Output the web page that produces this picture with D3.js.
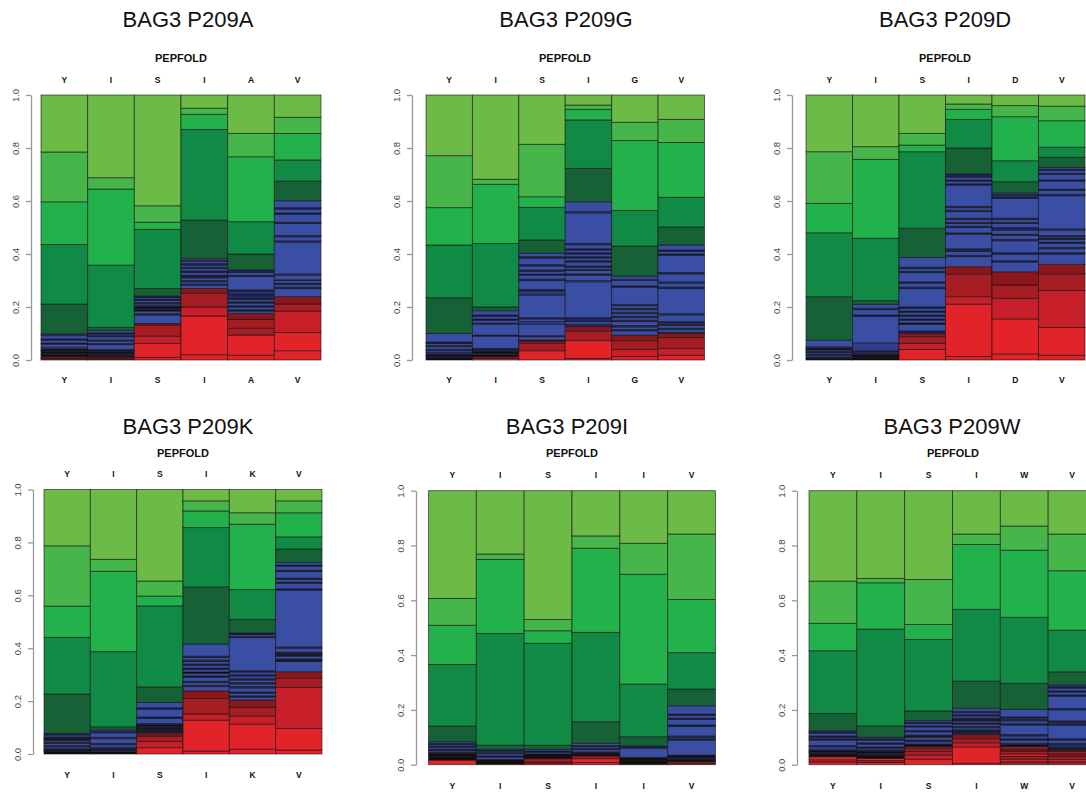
<!DOCTYPE html>
<html>
<head>
<meta charset="UTF-8">
<title>BAG3 P209 PEPFOLD</title>
<script src="https://d3js.org/d3.v7.min.js"></script>
<style>
  body { margin: 0; background: #fff; }
  svg { display: block; font-family: "Liberation Sans", Arial, sans-serif; }
  .ttl { font-size: 22px; fill: #111; }
  .sub { font-size: 11px; font-weight: bold; fill: #111; }
  .res { font-size: 8.5px; font-weight: bold; fill: #111; }
  .yax path, .yax line { stroke: #999; stroke-width: 1.3; }
  .yax text { font-size: 9.5px; fill: #444; }
</style>
</head>
<body>
<div id="chart"></div>
<script>
// titles and residues (x labels)
const titles = ["BAG3 P209A", "BAG3 P209G", "BAG3 P209D", "BAG3 P209K", "BAG3 P209I", "BAG3 P209W"];
const residues = [
  ["Y", "I", "S", "I", "A", "V"],
  ["Y", "I", "S", "I", "G", "V"],
  ["Y", "I", "S", "I", "D", "V"],
  ["Y", "I", "S", "I", "K", "V"],
  ["Y", "I", "S", "I", "I", "V"],
  ["Y", "I", "S", "I", "W", "V"]
];
const yTicks = [0, 0.2, 0.4, 0.6, 0.8, 1.0];

// each column: stacked segments bottom -> top as [colour class, upper bound]
const p209A = [
  [["r1",.004],["r3",.008],["r1",.012],["k",.02],["b3",.024],["k",.032],["b3",.036],["k",.042],["b2",.048],["b1",.06],["b3",.064],["b1",.075],["b3",.08],["b1",.092],["b2",.098],["g1",.211],["g2",.436],["g3",.597],["g4",.785],["g5",1]],
  [["r3",.004],["r1",.008],["r4",.012],["k",.018],["b3",.024],["k",.03],["b3",.036],["k",.04],["b1",.058],["b3",.062],["b1",.072],["b2",.076],["b1",.088],["b3",.092],["b1",.098],["b3",.103],["b1",.111],["g1",.123],["g2",.358],["g3",.645],["g4",.688],["g5",1]],
  [["r1",.01],["r1",.063],["r2",.09],["r3",.132],["r4",.138],["b1",.17],["b3",.175],["b1",.185],["k",.19],["b3",.195],["k",.2],["b3",.205],["b1",.212],["b3",.217],["b1",.225],["b3",.23],["b1",.236],["b3",.242],["g1",.27],["g2",.493],["g3",.52],["g4",.582],["g5",1]],
  [["r1",.02],["r1",.166],["r2",.2],["r3",.252],["r4",.27],["b1",.282],["b3",.286],["b1",.295],["b3",.3],["b1",.31],["b3",.315],["k",.32],["b1",.33],["b3",.336],["b1",.345],["b3",.35],["b1",.358],["b3",.364],["b1",.372],["b2",.378],["b1",.384],["g1",.528],["g2",.87],["g3",.927],["g4",.95],["g5",1]],
  [["r1",.018],["r1",.094],["r3",.12],["r3",.153],["r4",.176],["b1",.185],["b3",.19],["b1",.2],["b3",.205],["b1",.215],["b3",.22],["b1",.228],["b3",.235],["b2",.242],["b3",.25],["b2",.258],["b3",.265],["b1",.315],["b3",.32],["b1",.33],["b3",.34],["g1",.4],["g2",.522],["g3",.767],["g4",.855],["g5",1]],
  [["r1",.035],["r1",.104],["r2",.185],["r3",.211],["r4",.239],["b1",.27],["b3",.275],["b1",.285],["b3",.29],["b1",.3],["b3",.303],["b1",.32],["b2",.325],["b1",.445],["b2",.45],["b1",.465],["b3",.47],["b1",.515],["b3",.52],["b1",.55],["b3",.555],["b1",.57],["b3",.575],["b1",.601],["g1",.675],["g2",.755],["g3",.855],["g4",.916],["g5",1]]
];
const p209G = [
  [["k",.01],["b3",.015],["k",.02],["b3",.028],["b1",.035],["b3",.04],["b1",.05],["b3",.055],["b1",.062],["b3",.068],["b1",.1],["g1",.235],["g2",.434],["g3",.575],["g4",.771],["g5",1]],
  [["r1",.006],["r3",.012],["k",.02],["b3",.026],["k",.032],["b3",.04],["k",.044],["b1",.09],["b3",.094],["b1",.135],["b2",.14],["b1",.15],["b3",.155],["b1",.165],["b3",.17],["b1",.186],["g1",.2],["g2",.44],["g3",.663],["g4",.682],["g5",1]],
  [["r1",.035],["r3",.063],["r4",.072],["b3",.076],["b1",.088],["b3",.092],["b1",.135],["b2",.145],["b1",.155],["b3",.16],["b1",.245],["b2",.252],["b1",.26],["b3",.266],["b1",.3],["b3",.305],["b1",.32],["b3",.325],["b1",.335],["b3",.34],["b1",.355],["b3",.36],["b1",.385],["b3",.39],["b1",.403],["g1",.453],["g2",.576],["g3",.616],["g4",.814],["g5",1]],
  [["r1",.006],["r1",.073],["r3",.11],["r4",.126],["b3",.135],["b1",.145],["b3",.16],["b1",.295],["b2",.3],["b1",.32],["b3",.325],["b1",.338],["b3",.342],["b1",.35],["b3",.355],["b1",.37],["b3",.375],["b1",.385],["b3",.39],["b1",.4],["b3",.405],["b1",.415],["b3",.42],["b1",.435],["b3",.44],["b1",.555],["b2",.56],["b1",.597],["g1",.723],["g2",.906],["g3",.946],["g4",.962],["g5",1]],
  [["r1",.013],["r2",.04],["r3",.073],["r4",.094],["b1",.11],["b3",.115],["b1",.125],["b3",.13],["b1",.145],["b3",.15],["b1",.16],["b3",.165],["b1",.175],["b3",.18],["b1",.19],["b3",.195],["b1",.205],["b3",.21],["b1",.275],["b3",.28],["b1",.3],["b2",.305],["b1",.317],["g1",.43],["g2",.564],["g3",.828],["g4",.897],["g5",1]],
  [["r1",.018],["r2",.044],["r3",.085],["r4",.1],["b3",.105],["b1",.115],["b3",.12],["b1",.13],["b3",.135],["b1",.14],["b3",.145],["b1",.17],["b2",.175],["b1",.27],["b3",.275],["b1",.29],["b2",.295],["b1",.325],["b3",.33],["b1",.395],["b3",.4],["b1",.41],["b3",.415],["b1",.434],["g1",.502],["g2",.614],["g3",.821],["g4",.908],["g5",1]]
];
const p209D = [
  [["k",.006],["b3",.012],["b1",.018],["b3",.022],["b1",.028],["b3",.032],["b1",.038],["k",.042],["b3",.046],["b1",.05],["b1",.075],["g1",.239],["g2",.48],["g3",.591],["g4",.786],["g5",1]],
  [["k",.01],["k",.019],["b3",.025],["b1",.03],["b3",.035],["b2",.065],["b1",.165],["b3",.17],["b1",.19],["b3",.195],["b1",.21],["g1",.224],["g2",.459],["g3",.757],["g4",.805],["g5",1]],
  [["r1",.04],["r2",.063],["r3",.088],["r4",.1],["b3",.11],["b1",.135],["k",.14],["b1",.15],["b3",.155],["b1",.165],["b3",.17],["b1",.18],["b3",.185],["b1",.195],["b3",.2],["b1",.27],["b3",.275],["b1",.29],["b3",.295],["b1",.33],["b3",.335],["b1",.345],["b3",.35],["b1",.387],["g1",.497],["g2",.786],["g3",.811],["g4",.855],["g5",1]],
  [["r1",.013],["r1",.211],["r2",.239],["r3",.325],["r4",.352],["b1",.39],["b3",.395],["b1",.41],["b3",.42],["b1",.475],["b3",.48],["b1",.5],["b3",.505],["b1",.515],["b3",.52],["b1",.53],["b3",.535],["b1",.56],["b3",.565],["b1",.575],["b3",.58],["b1",.66],["b3",.665],["b1",.675],["b3",.68],["b1",.69],["b3",.702],["g1",.8],["g2",.908],["g3",.946],["g4",.966],["g5",1]],
  [["r1",.023],["r1",.155],["r2",.233],["r3",.283],["r4",.333],["b1",.37],["b3",.375],["b1",.4],["b3",.405],["b1",.45],["b3",.455],["b1",.47],["b3",.475],["b1",.49],["b3",.5],["b1",.515],["b3",.52],["b1",.53],["b3",.535],["b1",.61],["b3",.615],["b1",.62],["b3",.625],["b1",.631],["g1",.673],["g2",.752],["g3",.918],["g4",.96],["g5",1]],
  [["r1",.018],["r1",.123],["r2",.262],["r3",.325],["r4",.361],["b1",.4],["b3",.405],["b1",.42],["b3",.425],["b1",.44],["b3",.445],["b1",.455],["b3",.46],["b1",.465],["b3",.47],["b1",.49],["b2",.495],["b1",.62],["b3",.625],["b1",.64],["b3",.645],["b1",.675],["b3",.68],["b1",.7],["b3",.705],["b1",.715],["b3",.72],["b1",.727],["g1",.765],["g2",.803],["g3",.903],["g4",.958],["g5",1]]
];
const p209K = [
  [["k",.008],["b3",.012],["k",.015],["b3",.02],["b1",.027],["b3",.032],["b1",.04],["b3",.044],["b1",.05],["b3",.055],["k",.06],["b3",.065],["b1",.072],["b3",.078],["g1",.227],["g2",.441],["g3",.559],["g4",.787],["g5",1]],
  [["k",.008],["b3",.014],["k",.018],["b3",.025],["b1",.035],["b3",.04],["b1",.058],["b3",.063],["b1",.08],["b3",.085],["b1",.091],["g1",.103],["g2",.387],["g3",.691],["g4",.736],["g5",1]],
  [["r1",.024],["r2",.047],["r3",.068],["r4",.078],["b3",.085],["k",.09],["b3",.095],["k",.1],["b3",.105],["k",.11],["b3",.115],["b1",.135],["b3",.14],["b1",.17],["b3",.175],["b1",.195],["g1",.254],["g2",.56],["g3",.597],["g4",.654],["g5",1]],
  [["r1",.011],["r1",.128],["r2",.151],["r3",.21],["r4",.239],["b1",.255],["b3",.26],["b1",.27],["b3",.275],["b1",.29],["b3",.295],["b1",.305],["k",.31],["b1",.32],["b3",.325],["b1",.335],["b3",.34],["b1",.35],["b3",.355],["b1",.365],["b3",.37],["b1",.416],["g1",.632],["g2",.856],["g3",.919],["g4",.957],["g5",1]],
  [["r1",.018],["r1",.113],["r2",.144],["r3",.176],["r4",.204],["b1",.215],["b3",.22],["b1",.23],["b3",.235],["b1",.25],["b3",.255],["b1",.265],["b3",.27],["b1",.28],["b3",.285],["b1",.295],["b3",.3],["b1",.31],["b3",.315],["b1",.44],["b3",.445],["b1",.452],["b3",.458],["g1",.509],["g2",.622],["g3",.869],["g4",.912],["g5",1]],
  [["r1",.015],["r1",.097],["r2",.252],["r3",.286],["r4",.311],["b1",.35],["k",.355],["b3",.36],["b1",.37],["b3",.375],["k",.38],["b3",.385],["b1",.4],["b2",.405],["b1",.62],["b3",.625],["b1",.645],["b3",.65],["b1",.66],["b3",.665],["b1",.69],["b3",.695],["b1",.71],["b3",.715],["b1",.724],["g1",.775],["g2",.821],["g3",.912],["g4",.957],["g5",1]]
];
const p209I = [
  [["r1",.017],["k",.03],["k",.041],["b3",.046],["b1",.052],["b3",.057],["b1",.064],["b3",.068],["b1",.074],["b3",.078],["b1",.084],["g1",.141],["g2",.366],["g3",.509],["g4",.607],["g5",1]],
  [["k",.01],["k",.019],["b1",.028],["b3",.032],["b1",.04],["b3",.045],["b1",.05],["b3",.056],["g1",.071],["g2",.479],["g3",.749],["g4",.769],["g5",1]],
  [["r4",.01],["r3",.022],["k",.032],["k",.039],["b1",.045],["b3",.05],["b1",.056],["g1",.071],["g2",.443],["g3",.489],["g4",.53],["g5",1]],
  [["r2",.008],["r1",.022],["r3",.032],["k",.042],["b3",.047],["b1",.055],["b3",.06],["b1",.066],["b3",.07],["b1",.078],["g1",.157],["g2",.483],["g3",.79],["g4",.835],["g5",1]],
  [["k",.015],["k",.027],["b1",.06],["b3",.068],["g1",.102],["g2",.294],["g3",.695],["g4",.808],["g5",1]],
  [["r4",.005],["r3",.011],["k",.02],["b3",.028],["k",.035],["b1",.09],["b3",.095],["b1",.1],["b2",.105],["b1",.14],["b3",.145],["b1",.165],["b3",.17],["b1",.18],["b3",.185],["b1",.215],["g1",.276],["g2",.409],["g3",.603],["g4",.842],["g5",1]]
];
const p209W = [
  [["r1",.01],["r2",.018],["r1",.029],["k",.04],["b3",.045],["k",.05],["b3",.056],["b1",.065],["b3",.07],["b1",.09],["b3",.095],["b1",.1],["b3",.105],["b1",.115],["b3",.12],["b1",.124],["g1",.187],["g2",.416],["g3",.516],["g4",.67],["g5",1]],
  [["r1",.008],["r3",.015],["r1",.023],["k",.035],["b3",.042],["k",.048],["b3",.054],["b1",.06],["b3",.065],["b1",.075],["b3",.08],["b1",.09],["b3",.095],["b1",.1],["g1",.142],["g2",.495],["g3",.664],["g4",.68],["g5",1]],
  [["r1",.02],["r2",.035],["r3",.05],["r2",.058],["r4",.066],["k",.072],["b3",.076],["b1",.084],["b3",.09],["b1",.1],["k",.104],["b3",.108],["b1",.12],["b3",.125],["b1",.138],["b3",.142],["b1",.15],["b3",.155],["b1",.161],["g1",.196],["g2",.457],["g3",.512],["g4",.676],["g5",1]],
  [["r1",.005],["r1",.065],["r2",.08],["r3",.095],["r4",.11],["b3",.118],["k",.122],["b3",.128],["b1",.135],["b3",.14],["b1",.148],["b3",.153],["b1",.16],["k",.165],["b3",.17],["b1",.178],["b3",.183],["b1",.19],["b3",.195],["b1",.206],["g1",.305],["g2",.567],["g3",.804],["g4",.842],["g5",1]],
  [["r3",.01],["r2",.02],["r3",.03],["r2",.04],["r3",.05],["r4",.058],["r3",.066],["k",.072],["b3",.078],["b1",.09],["b3",.095],["b1",.105],["b3",.11],["b1",.145],["b3",.15],["b1",.16],["b3",.165],["b1",.17],["b3",.175],["b1",.202],["g1",.297],["g2",.538],["g3",.783],["g4",.871],["g5",1]],
  [["r3",.01],["r2",.02],["r3",.03],["r4",.04],["r3",.048],["r4",.054],["k",.06],["b3",.066],["b1",.072],["b3",.078],["b1",.09],["b3",.095],["b1",.145],["b3",.15],["b1",.155],["b3",.16],["b1",.2],["b3",.205],["b1",.25],["b3",.255],["b1",.265],["b3",.27],["b1",.28],["b3",.285],["b1",.291],["g1",.339],["g2",.491],["g3",.708],["g4",.842],["g5",1]]
];
const panelData = [p209A, p209G, p209D, p209K, p209I, p209W];

const colours = {
  r1: "#e3232a", r2: "#c8202a", r3: "#a71d24", r4: "#8b171c",
  k: "#140d0e",
  b3: "#1d2460", b2: "#2e3c8e", b1: "#3a4ea3",
  g1: "#176136", g2: "#108a45", g3: "#23b14c", g4: "#46b64a", g5: "#6cbb46"
};

// page layout of the six panels
const layout = [
  {x0: 41,  x1: 321,  y0: 95,  y1: 360, ax: 31,  tx: 188, ty: 27,  px: 181, py: 62,  topY: 83,  botY: 383},
  {x0: 426, x1: 704.5, y0: 95, y1: 360, ax: 412, tx: 566, ty: 27,  px: 565, py: 62,  topY: 83,  botY: 383},
  {x0: 806, x1: 1085, y0: 95,  y1: 360, ax: 792, tx: 945, ty: 27,  px: 945, py: 62,  topY: 83,  botY: 383},
  {x0: 44,  x1: 322,  y0: 489.5, y1: 754, ax: 33, tx: 188, ty: 434, px: 183, py: 456.5, topY: 477, botY: 778},
  {x0: 428.5, x1: 715.5, y0: 490.7, y1: 764.7, ax: 416, tx: 567, ty: 434, px: 572, py: 456.5, topY: 478, botY: 789},
  {x0: 809, x1: 1096, y0: 490.7, y1: 764.7, ax: 797, tx: 952, ty: 434, px: 953, py: 456.5, topY: 478, botY: 789}
];

const svg = d3.select("#chart").append("svg")
  .attr("width", 1086).attr("height", 792);

panelData.forEach((cols, i) => {
  const L = layout[i];
  const g = svg.append("g");

  const x = d3.scaleBand()
    .domain(d3.range(cols.length))
    .range([L.x0, L.x1])
    .padding(0);
  const y = d3.scaleLinear().domain([0, 1]).range([L.y1, L.y0]);

  // title + method label
  g.append("text").attr("class", "ttl").attr("x", L.tx).attr("y", L.ty)
    .attr("text-anchor", "middle").text(titles[i]);
  g.append("text").attr("class", "sub").attr("x", L.px).attr("y", L.py)
    .attr("text-anchor", "middle").text("PEPFOLD");

  // stacked segments
  cols.forEach((segs, c) => {
    let prev = 0;
    const rows = segs.map(([k, top]) => {
      const r = {k: k, lo: prev, hi: top};
      prev = top;
      return r;
    });
    g.append("g").selectAll("rect")
      .data(rows)
      .join("rect")
      .attr("x", x(c))
      .attr("width", x.bandwidth())
      .attr("y", d => y(d.hi))
      .attr("height", d => y(d.lo) - y(d.hi))
      .attr("fill", d => colours[d.k])
      .attr("stroke", "#111")
      .attr("stroke-opacity", 0.65)
      .attr("stroke-width", 0.9);
  });

  // residue letters above and below
  [L.topY, L.botY].forEach(ly => {
    g.append("g").selectAll("text")
      .data(residues[i])
      .join("text")
      .attr("class", "res")
      .attr("x", (d, c) => x(c) + x.bandwidth() / 2)
      .attr("y", ly)
      .attr("text-anchor", "middle")
      .text(d => d);
  });

  // y axis, R style with rotated labels
  const ax = g.append("g").attr("class", "yax")
    .attr("transform", `translate(${L.ax},0)`)
    .call(d3.axisLeft(y).tickValues(yTicks).tickFormat(d3.format(".1f")).tickSize(5).tickSizeOuter(0));
  ax.selectAll(".tick text")
    .attr("x", null).attr("dy", null)
    .attr("text-anchor", "middle")
    .attr("transform", "translate(-15,0) rotate(-90)")
    .attr("dy", "0.35em");
});
</script>
</body>
</html>
